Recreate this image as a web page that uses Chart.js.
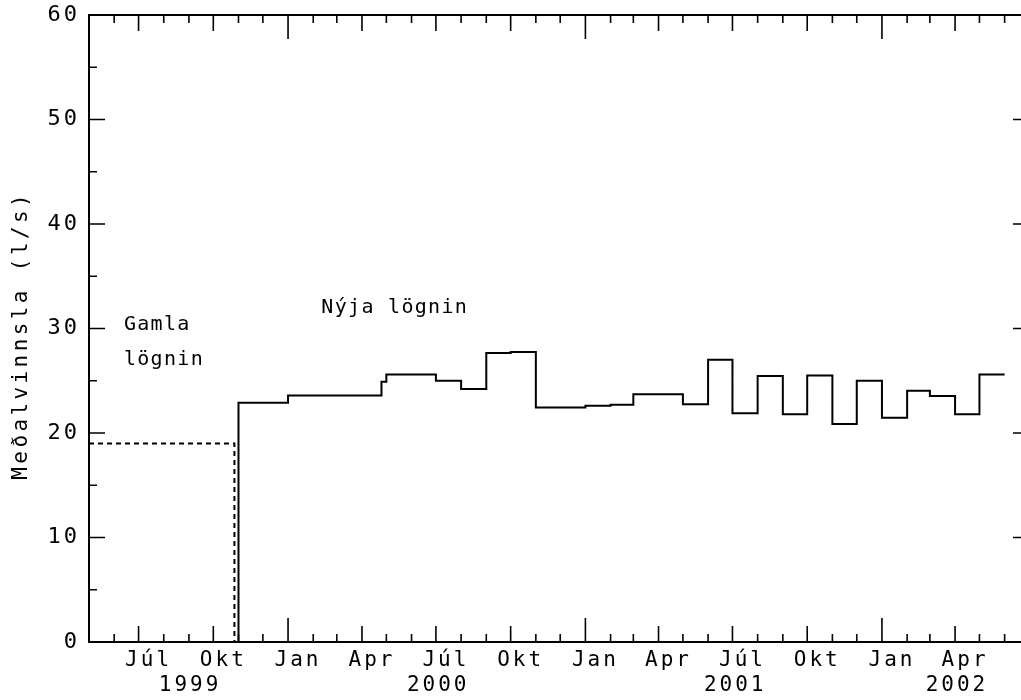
<!DOCTYPE html>
<html><head><meta charset="utf-8">
<script src="https://cdn.jsdelivr.net/npm/chart.js@4.4.1/dist/chart.umd.min.js"></script>
<style>
html,body{margin:0;padding:0;background:#fff;overflow:hidden;}
#wrap{position:relative;width:1040px;height:700px;}
</style></head><body>
<div id="wrap"><canvas id="c" width="1040" height="700"></canvas></div>
<script>
// Axis labels
const quarterNames = ['Jan', 'Apr', 'Júl', 'Okt'];
const yearLabels = ['1999', '2000', '2001', '2002'];
const axisStart = '1999-05-01';
const axisEnd = '2002-07-01';
const yMin = 0, yMax = 60, yStep = 10;
const yTitle = 'Meðalvinnsla (l/s)';

// Gamla lögnin (old pipe), l/s
const gamlaDates = ['1999-05-01', '1999-10-27', '1999-10-27'];
const gamlaValues = [19.0, 19.0, 0];

// Nýja lögnin (new pipe), l/s — each value holds until the next date
const nyjaDates = ['1999-11-01', '1999-11-01', '2000-01-01', '2000-04-25', '2000-05-01', '2000-07-01',
  '2000-08-01', '2000-09-01', '2000-10-01', '2000-11-01', '2001-01-01', '2001-02-01', '2001-03-01',
  '2001-05-01', '2001-06-01', '2001-07-01', '2001-08-01', '2001-09-01', '2001-10-01', '2001-11-01',
  '2001-12-01', '2002-01-01', '2002-02-01', '2002-03-01', '2002-04-01', '2002-05-01', '2002-06-01'];
const nyjaValues = [0, 22.9, 23.6, 24.9, 25.6, 25.0,
  24.2, 27.65, 27.75, 22.45, 22.6, 22.7, 23.7,
  22.75, 27.0, 21.9, 25.45, 21.8, 25.5, 20.85,
  25.0, 21.45, 24.05, 23.55, 21.8, 25.6, 25.6];

// Text notes inside the plot
const noteTexts = ['Gamla', 'lögnin', 'Nýja lögnin'];
const noteDates = ['1999-06-13', '1999-06-13', '2000-02-11'];
const noteValues = [30.4, 27.0, 32.0];

const FONT = '"DejaVu Sans Mono", monospace';
const FSIZE = 21;
const DAY = 86400000;
function dayNum(s) {
  return Date.UTC(+s.slice(0, 4), +s.slice(5, 7) - 1, +s.slice(8, 10)) / DAY;
}
function pts(dates, values) {
  return dates.map((d, i) => ({ x: dayNum(d), y: values[i] }));
}
const xMin = dayNum(axisStart), xMax = dayNum(axisEnd);

// month starts for tick marks; quarter starts carry labels
const monthStarts = [];
{
  let y = +axisStart.slice(0, 4), m = +axisStart.slice(5, 7) - 1;
  while (true) {
    const v = Date.UTC(y, m, 1) / DAY;
    if (v > xMax) break;
    monthStarts.push({ v, m });
    m++; if (m > 11) { m = 0; y++; }
  }
}
const quarterTicks = monthStarts.filter(t => t.m % 3 === 0 && t.v < xMax).map(t => t.v);

Chart.defaults.color = '#000';
Chart.defaults.font.family = FONT;

const spacingPlugin = {
  id: 'spacing',
  beforeDraw(chart) { chart.ctx.letterSpacing = '3px'; }
};

const framePlugin = {
  id: 'frame',
  afterDatasetsDraw(chart) {
    const ctx = chart.ctx, a = chart.chartArea;
    const xs = chart.scales.x, ys = chart.scales.y;
    ctx.save();
    ctx.strokeStyle = '#000';
    ctx.lineWidth = 2;
    ctx.beginPath();
    ctx.rect(a.left, a.top, a.right - a.left, a.bottom - a.top);
    ctx.stroke();
    ctx.lineWidth = 1.6;
    ctx.beginPath();
    for (let v = yMin; v <= yMax; v += 5) {
      const p = ys.getPixelForValue(v);
      const len = v % 10 === 0 ? 16 : 8;
      ctx.moveTo(a.left, p); ctx.lineTo(a.left + len, p);
      ctx.moveTo(a.right, p); ctx.lineTo(a.right - len, p);
    }
    monthStarts.forEach(t => {
      const p = xs.getPixelForValue(t.v);
      const len = t.m === 0 ? 24 : (t.m % 3 === 0 ? 16 : 8);
      ctx.moveTo(p, a.bottom); ctx.lineTo(p, a.bottom - len);
      ctx.moveTo(p, a.top); ctx.lineTo(p, a.top + len);
    });
    ctx.stroke();
    ctx.restore();
  }
};

const textPlugin = {
  id: 'texts',
  afterDraw(chart) {
    const ctx = chart.ctx, a = chart.chartArea;
    const xs = chart.scales.x, ys = chart.scales.y;
    ctx.save();
    ctx.fillStyle = '#000';
    ctx.font = FSIZE + 'px ' + FONT;
    ctx.textBaseline = 'middle';
    // year labels, centred on the visible part of each year
    ctx.letterSpacing = '3px';
    ctx.textAlign = 'center';
    yearLabels.forEach(yl => {
      const s = Math.max(xs.getPixelForValue(dayNum(yl + '-01-01')), a.left);
      const e = Math.min(xs.getPixelForValue(dayNum((+yl + 1) + '-01-01')), a.right);
      ctx.fillText(yl, (s + e) / 2 + 1.5, 686);
    });
    // y axis title
    ctx.save();
    ctx.letterSpacing = '3.4px';
    ctx.translate(22, 337);
    ctx.rotate(-Math.PI / 2);
    ctx.fillText(yTitle, 1.7, 0);
    ctx.restore();
    // notes
    ctx.font = '20px ' + FONT;
    ctx.letterSpacing = '1.3px';
    ctx.textAlign = 'left';
    noteTexts.forEach((t, i) => {
      ctx.fillText(t, xs.getPixelForValue(dayNum(noteDates[i])), ys.getPixelForValue(noteValues[i]));
    });
    ctx.restore();
  }
};

new Chart(document.getElementById('c'), {
  type: 'line',
  data: {
    datasets: [
      {
        label: 'Gamla lögnin',
        data: pts(gamlaDates, gamlaValues),
        borderColor: '#000', borderWidth: 2, borderDash: [5, 4],
        pointRadius: 0, fill: false, tension: 0
      },
      {
        label: 'Nýja lögnin',
        data: pts(nyjaDates, nyjaValues),
        borderColor: '#000', borderWidth: 2, stepped: 'before',
        pointRadius: 0, fill: false, tension: 0
      }
    ]
  },
  options: {
    responsive: false,
    animation: false,
    events: [],
    layout: { autoPadding: false, padding: { top: 15, right: 11, left: 0, bottom: 0 } },
    plugins: { legend: { display: false }, tooltip: { enabled: false } },
    scales: {
      x: {
        type: 'linear', min: xMin, max: xMax,
        grid: { display: false, drawTicks: false, tickLength: 0 },
        border: { display: false },
        afterBuildTicks(scale) { scale.ticks = quarterTicks.map(v => ({ value: v })); },
        afterFit(scale) {
          scale.height = 58;
          scale.paddingLeft = 0; scale.paddingRight = 0;
          scale.paddingTop = 0; scale.paddingBottom = 0;
        },
        ticks: {
          autoSkip: false, maxRotation: 0, padding: 6, labelOffset: 10,
          font: { size: FSIZE, lineHeight: 1.2 },
          callback(value) {
            const m = new Date(value * DAY).getUTCMonth();
            return quarterNames[m / 3];
          }
        }
      },
      y: {
        min: yMin, max: yMax,
        grid: { display: false, drawTicks: false, tickLength: 0 },
        border: { display: false },
        afterFit(scale) {
          scale.width = 89;
          scale.paddingLeft = 0; scale.paddingRight = 0;
          scale.paddingTop = 0; scale.paddingBottom = 0;
        },
        ticks: { stepSize: yStep, padding: 9, font: { size: 22, lineHeight: 1.2 } }
      }
    }
  },
  plugins: [spacingPlugin, framePlugin, textPlugin]
});
</script>
</body></html>
